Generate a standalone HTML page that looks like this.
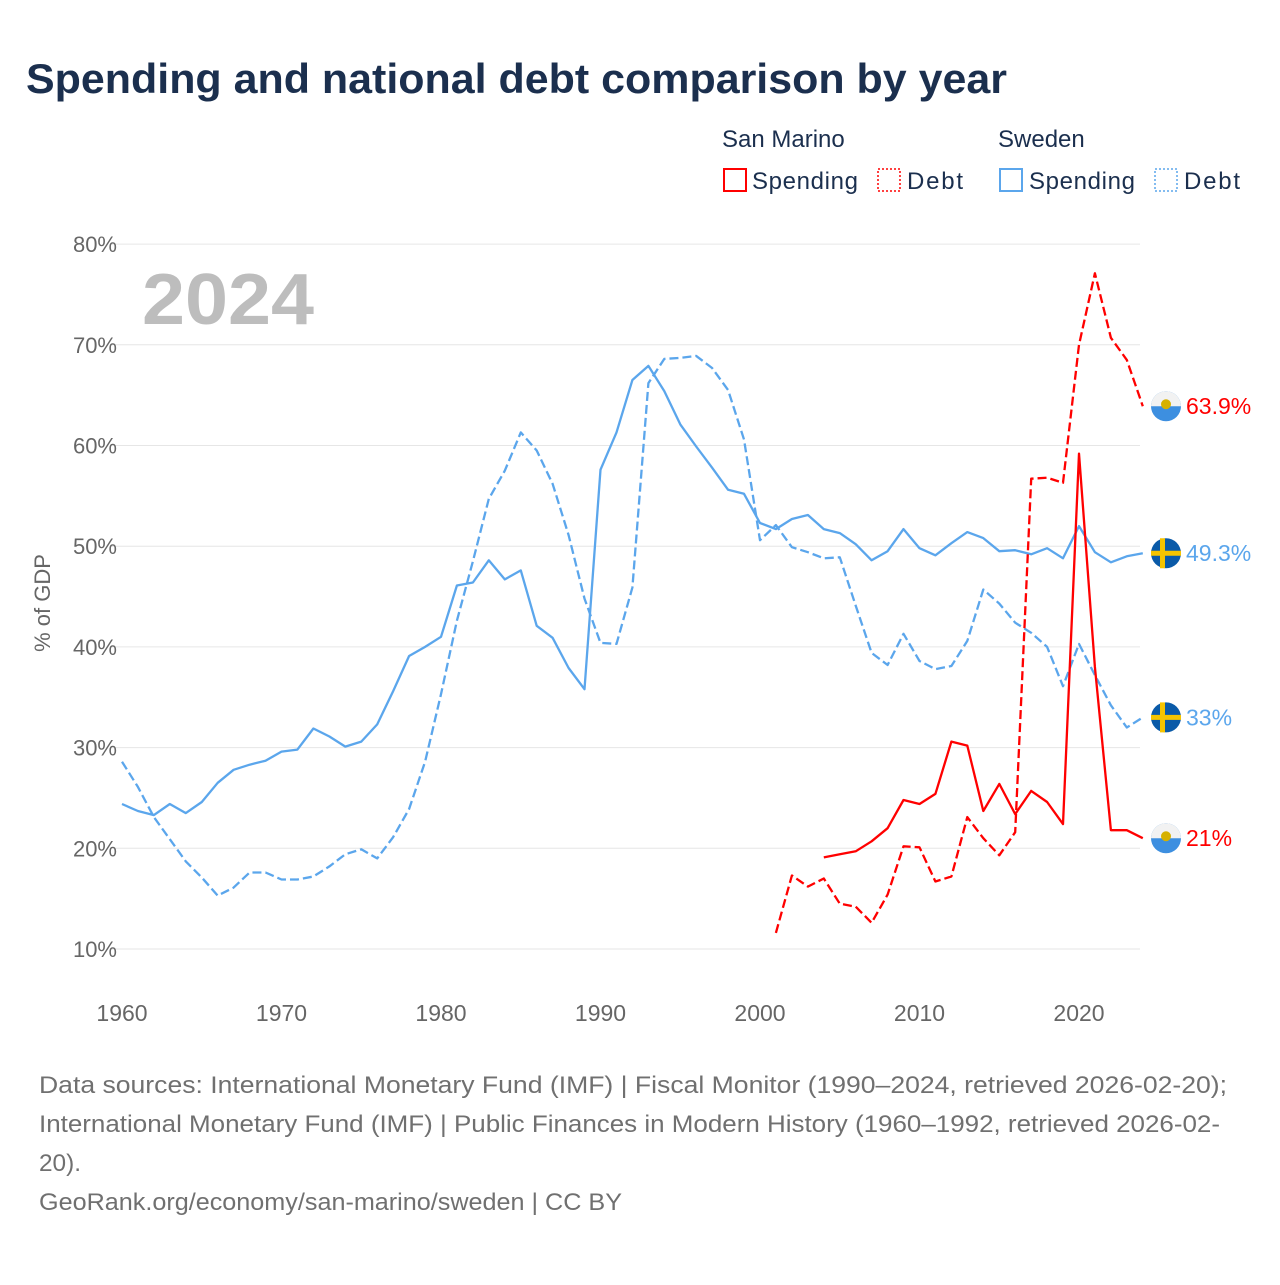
<!DOCTYPE html>
<html><head><meta charset="utf-8">
<style>
body{margin:0;background:#fff;width:1280px;height:1280px;overflow:hidden;font-family:"Liberation Sans",sans-serif;}
</style></head>
<body>
<svg id="chart" width="1280" height="1280" xmlns="http://www.w3.org/2000/svg" font-family="Liberation Sans, sans-serif">
<text x="26" y="93" font-size="42" font-weight="bold" fill="#1b2f4e" textLength="981" lengthAdjust="spacingAndGlyphs">Spending and national debt comparison by year</text>
<g font-size="24" fill="#1b2f4e">
<text x="722" y="147">San Marino</text>
<text x="998" y="147">Sweden</text>
<g><rect x="724" y="169" width="22" height="22" fill="none" stroke="#ff0000" stroke-width="2"/><text x="752" y="189" textLength="106">Spending</text></g>
<g><rect x="878" y="169" width="22" height="22" fill="none" stroke="#ff0000" stroke-width="1.5" stroke-dasharray="2,2"/><text x="907" y="189" textLength="56">Debt</text></g>
<g><rect x="1000" y="169" width="22" height="22" fill="none" stroke="#5ba6ec" stroke-width="2"/><text x="1029" y="189" textLength="106">Spending</text></g>
<g><rect x="1155" y="169" width="22" height="22" fill="none" stroke="#5ba6ec" stroke-width="1.5" stroke-dasharray="2,2"/><text x="1184" y="189" textLength="56">Debt</text></g>
</g>
<text x="142" y="324" font-size="72" font-weight="bold" fill="#bdbdbd" textLength="172" lengthAdjust="spacingAndGlyphs">2024</text>
<text transform="translate(50,603) rotate(-90)" text-anchor="middle" font-size="22" fill="#666">% of GDP</text>
<g id="grid"></g><g id="series"></g><g id="ends"></g>
<g font-size="24" fill="#707070">
<text x="39" y="1093" textLength="1188" lengthAdjust="spacingAndGlyphs">Data sources: International Monetary Fund (IMF) | Fiscal Monitor (1990–2024, retrieved 2026-02-20);</text>
<text x="39" y="1132" textLength="1181" lengthAdjust="spacingAndGlyphs">International Monetary Fund (IMF) | Public Finances in Modern History (1960–1992, retrieved 2026-02-</text>
<text x="39" y="1171" textLength="42" lengthAdjust="spacingAndGlyphs">20).</text>
<text x="39" y="1210" textLength="583" lengthAdjust="spacingAndGlyphs">GeoRank.org/economy/san-marino/sweden | CC BY</text>
</g>
</svg>
<script>
const yTicks=[10,20,30,40,50,60,70,80];
const xTicks=[1960,1970,1980,1990,2000,2010,2020];
const seSpendStart=1960;
const seSpending=[24.4,23.7,23.3,24.4,23.5,24.6,26.5,27.8,28.3,28.7,29.6,29.8,31.9,31.1,30.1,30.6,32.3,35.6,39.1,40.0,41.0,46.1,46.4,48.6,46.7,47.6,42.1,40.9,37.9,35.8,57.6,61.3,66.5,67.9,65.4,62.1,59.9,57.8,55.6,55.2,52.3,51.7,52.7,53.1,51.7,51.3,50.2,48.6,49.5,51.7,49.8,49.1,50.3,51.4,50.8,49.5,49.6,49.2,49.8,48.8,52.0,49.4,48.4,49.0,49.3];
const seDebtStart=1960;
const seDebt=[28.6,26.1,23.1,20.9,18.7,17.1,15.3,16.1,17.6,17.6,16.9,16.9,17.2,18.2,19.4,19.9,19.0,21.1,23.9,28.6,35.3,42.6,48.5,54.7,57.5,61.3,59.5,56.2,51.1,44.8,40.4,40.3,45.9,66.2,68.6,68.7,68.9,67.7,65.5,60.6,50.6,52.1,49.9,49.4,48.8,48.9,44.1,39.4,38.2,41.3,38.6,37.8,38.1,40.6,45.7,44.3,42.4,41.4,40.0,36.1,40.3,37.2,34.2,32.0,33.0];
const smSpendStart=2004;
const smSpending=[19.1,19.4,19.7,20.7,22.0,24.8,24.4,25.4,30.6,30.2,23.7,26.4,23.4,25.7,24.6,22.4,59.2,38.0,21.8,21.8,21.0];
const smDebtStart=2001;
const smDebt=[11.6,17.3,16.2,17.0,14.5,14.2,12.6,15.4,20.2,20.1,16.7,17.2,23.1,21.0,19.3,21.6,56.7,56.8,56.3,70.0,77.1,70.7,68.5,63.9];

const NS='http://www.w3.org/2000/svg';
const X=y=>122+(y-1960)*15.95;
const Y=v=>949-(v-10)*10.07;
function mk(tag,attrs,parent){const e=document.createElementNS(NS,tag);for(const k in attrs)e.setAttribute(k,attrs[k]);parent.appendChild(e);return e;}
const grid=document.getElementById('grid');
yTicks.forEach(t=>{
  const l=mk('line',{x1:110,x2:1140,y1:Y(t),y2:Y(t),stroke:'#e6e6e6','stroke-width':1},grid);
  
  
  const tx=mk('text',{x:117,y:Y(t)+8,'text-anchor':'end','font-size':22,fill:'#666'},grid);
  tx.textContent=t+'%';
  
  
});
xTicks.forEach(t=>{
  const tx=mk('text',{x:X(t),y:1021,'text-anchor':'middle','font-size':23,fill:'#666'},grid);
  tx.textContent=t;
  
  
});
const ser=document.getElementById('series');
function line(arr,start,color,dash,name){
  const d=arr.map((v,i)=>(i?'L':'M')+X(start+i).toFixed(1)+','+Y(v).toFixed(1)).join('');
  const p=mk('path',{d:d,fill:'none',stroke:color,'stroke-width':2.3,'stroke-linejoin':'round'},ser);
  if(dash)p.setAttribute('stroke-dasharray','9,4');
  
  
}
line(seDebt,seDebtStart,'#5ba6ec',true,'sweden-debt-line');
line(seSpending,seSpendStart,'#5ba6ec',false,'sweden-spending-line');
line(smDebt,smDebtStart,'#ff0000',true,'san-marino-debt-line');
line(smSpending,smSpendStart,'#ff0000',false,'san-marino-spending-line');
const ends=document.getElementById('ends');
function endLabel(arr,country,color,name){
  const v=arr[arr.length-1];const cy=Y(v);const cx=1166;
  const g=mk('g',{},ends);
  
  
  if(country==='se'){
    mk('circle',{cx:cx,cy:cy,r:15,fill:'#0a5aa8'},g);
    mk('rect',{x:cx-6,y:cy-15,width:5,height:30,fill:'#f5c400'},g);
    mk('rect',{x:cx-15,y:cy-2.5,width:30,height:5,fill:'#f5c400'},g);
  } else {
    mk('circle',{cx:cx,cy:cy,r:15,fill:'#3d8fe0'},g);
    mk('path',{d:`M${cx-15},${cy} A15,15 0 0 1 ${cx+15},${cy} Z`,fill:'#f2f2f2'},g);
    mk('circle',{cx:cx,cy:cy-2,r:5,fill:'#d6b100'},g);
  }
  const t=mk('text',{x:1186,y:cy+8,'font-size':23,fill:color},g);
  t.textContent=(Math.round(v*10)/10)+'%';
}
endLabel(smDebt,'sm','#ff0000','end-label-sm-debt');
endLabel(seSpending,'se','#5ba6ec','end-label-se-spending');
endLabel(seDebt,'se','#5ba6ec','end-label-se-debt');
endLabel(smSpending,'sm','#ff0000','end-label-sm-spending');
</script>
</body></html>
